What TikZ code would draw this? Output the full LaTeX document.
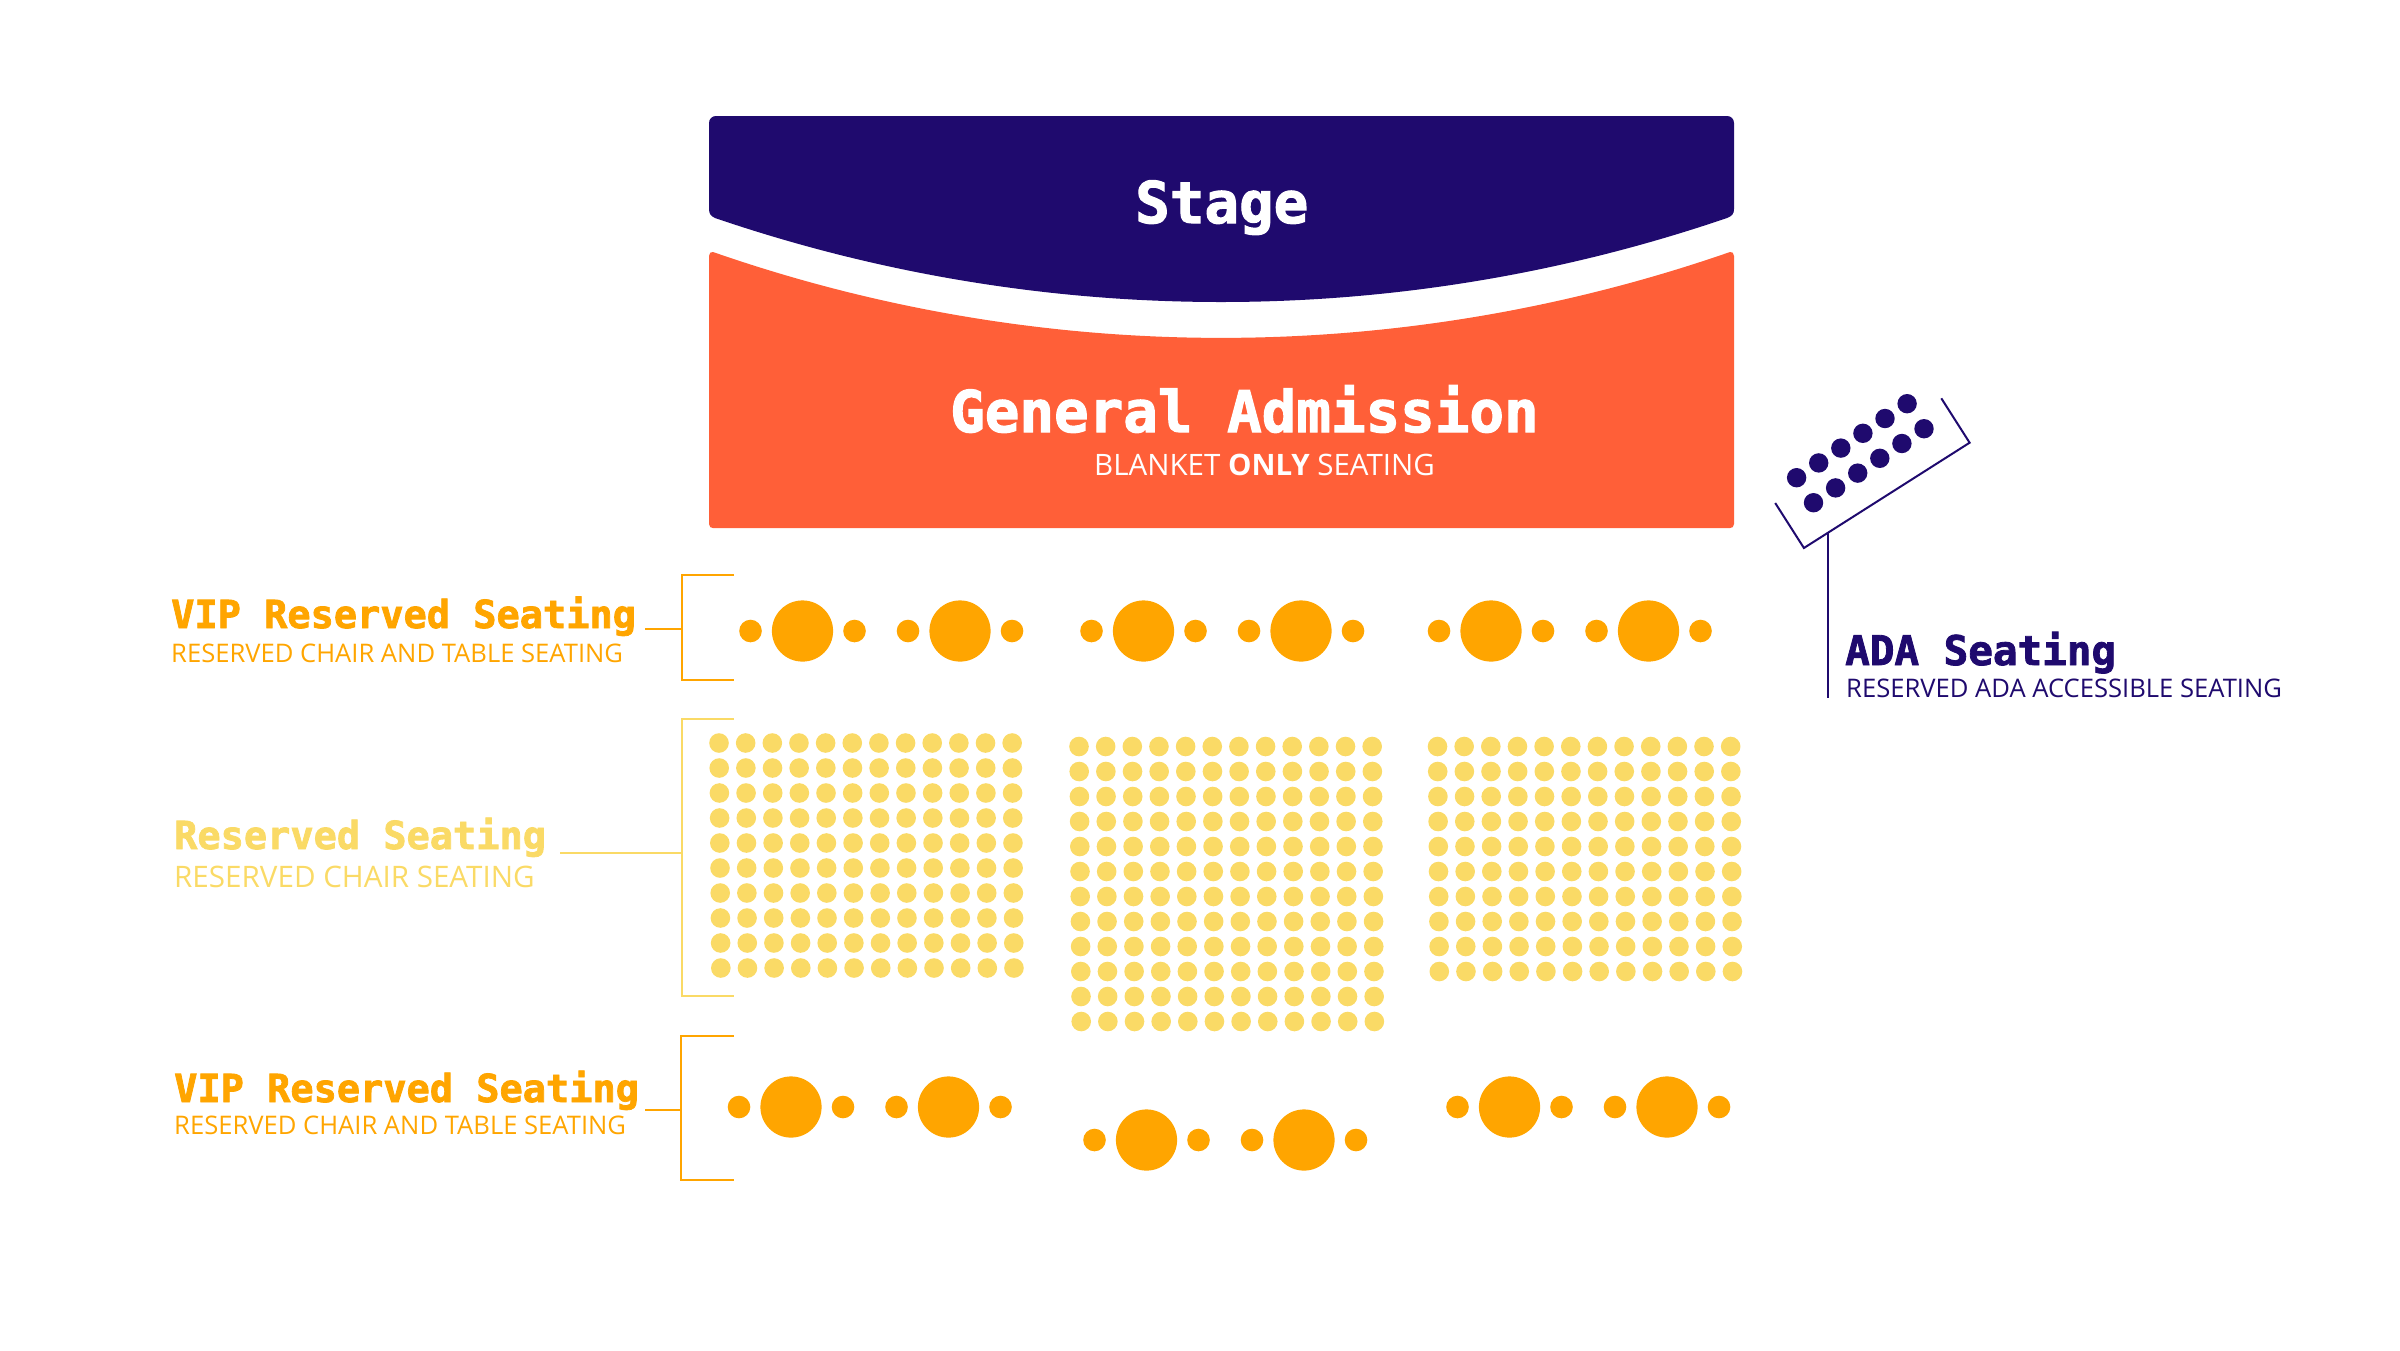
\documentclass[tikz,border=0pt]{standalone}
\usepackage{fontspec}
\setmainfont{Open Sans}
\newfontfamily\headfont{DejaVu Sans Mono}[BoldFeatures={FakeBold=2}]
\definecolor{navyblue}{HTML}{1F0A6E}
\definecolor{redorange}{HTML}{FF5F38}
\definecolor{vipamber}{HTML}{FFA500}
\definecolor{seatyellow}{HTML}{FADA66}
\tikzset{
    headtext/.style={anchor=base west, inner sep=0pt, font=\headfont\bfseries\fontsize{38.6}{40}\selectfont},
    subtext/.style={anchor=base west, inner sep=0pt, font=\fontsize{25.6}{28}\selectfont},
    bracketline/.style={line width=2pt}
}
\begin{document}
\begin{tikzpicture}[x=1pt,y=-1pt]
    \useasboundingbox (0,0) rectangle (2400,1350);

    % stage and general admission
    \fill [navyblue] (716,116) -- (1727,116) .. controls (1731,116) and (1734,119) .. (1734,123) -- (1734,209)
        .. controls (1734,214) and (1732,216) .. (1727,218) .. controls (1399,330) and (1043,330) .. (715,218)
        .. controls (711,216) and (709,214) .. (709,209) -- (709,123) .. controls (709,119) and (712,116) .. (716,116) -- cycle;
    \fill [redorange] (713,252) .. controls (1042,366.5) and (1400,366.5) .. (1730,252)
        .. controls (1732,251.5) and (1734,253) .. (1734,256) -- (1734,524) .. controls (1734,527) and (1732,528) .. (1730,528)
        -- (713,528) .. controls (711,528) and (709,527) .. (709,524) -- (709,256) .. controls (709,253) and (711,251.5) .. (713,252) -- cycle;
    \node (stagelabel) [headtext, white, font=\headfont\bfseries\fontsize{57.5}{60}\selectfont] at (1135,223) {Stage};
    \node (galabel) [headtext, white, font=\headfont\bfseries\fontsize{57.5}{60}\selectfont] at (950,432) {General Admission};
    \node (gasub) [subtext, white, font=\fontsize{29.5}{32}\selectfont] at (1094,475) {BLANKET \textbf{ONLY} SEATING};

    % vip tables
    \foreach \tx/\ty in {802.5/631,960/631,1143.5/631,1301/631,1491/631,1648.5/631,791/1107,948.5/1107,1146.5/1140,1304/1140,1509.5/1107,1667/1107} {
        \fill [vipamber] (\tx,\ty) circle (30.6);
        \fill [vipamber] (\tx-52,\ty) circle (11.3);
        \fill [vipamber] (\tx+52,\ty) circle (11.3);
    }

    % reserved chairs
    \foreach \gx/\gy/\lastrow in {719/743/9,1079/746.5/11,1437.5/746.5/9} {
        \foreach \r in {0,...,\lastrow} {
            \foreach \c in {0,...,11} {
                \fill [seatyellow] (\gx+\c*26.65+\r*0.2,\gy+\r*25) circle (9.8);
            }
        }
    }

    % ada seats
    \foreach \s in {0,...,5} {
        \fill [navyblue] (1796.6+\s*22.1,477.7-\s*14.8) circle (9.7);
        \fill [navyblue] (1813.5+\s*22.1,502.7-\s*14.8) circle (9.7);
    }
    \coordinate (adafoot) at (1828.4,532);
    \coordinate (adaend) at (1828.4,698);
    \draw [navyblue, bracketline] (1775.2,503) -- (1803.9,548) -- (1969.6,442.7) -- (1941.3,398.3);
    \draw [navyblue, bracketline] (adafoot) -- (adaend);

    % brackets
    \coordinate (vipAjoin) at (681.5,629);
    \coordinate (vipAfree) at (645,629);
    \coordinate (resjoin) at (681.5,853);
    \coordinate (resfree) at (560,853);
    \coordinate (vipBjoin) at (681,1110);
    \coordinate (vipBfree) at (645,1110);
    \draw [vipamber, bracketline] (734,575) -- (681.5,575) -- (681.5,680) -- (734,680);
    \draw [vipamber, bracketline] (vipAfree) -- (vipAjoin);
    \draw [seatyellow, bracketline] (734,719) -- (681.5,719) -- (681.5,996) -- (734,996);
    \draw [seatyellow, bracketline] (resfree) -- (resjoin);
    \draw [vipamber, bracketline] (734,1036) -- (681,1036) -- (681,1180) -- (734,1180);
    \draw [vipamber, bracketline] (vipBfree) -- (vipBjoin);

    % labels
    \node (vipAhead) [headtext, vipamber] at (171,628) {VIP Reserved Seating};
    \node (vipAsub) [subtext, vipamber] at (171,662) {RESERVED CHAIR AND TABLE SEATING};
    \node (reshead) [headtext, seatyellow] at (174,849) {Reserved Seating};
    \node (ressub) [subtext, seatyellow, font=\fontsize{29.6}{32}\selectfont] at (174,887) {RESERVED CHAIR SEATING};
    \node (vipBhead) [headtext, vipamber] at (174,1102) {VIP Reserved Seating};
    \node (vipBsub) [subtext, vipamber] at (174,1134) {RESERVED CHAIR AND TABLE SEATING};
    \node (adahead) [headtext, navyblue, font=\headfont\bfseries\fontsize{40.9}{42}\selectfont] at (1845,665) {ADA Seating};
    \node (adasub) [subtext, navyblue] at (1846,697) {RESERVED ADA ACCESSIBLE SEATING};
\end{tikzpicture}
\end{document}
